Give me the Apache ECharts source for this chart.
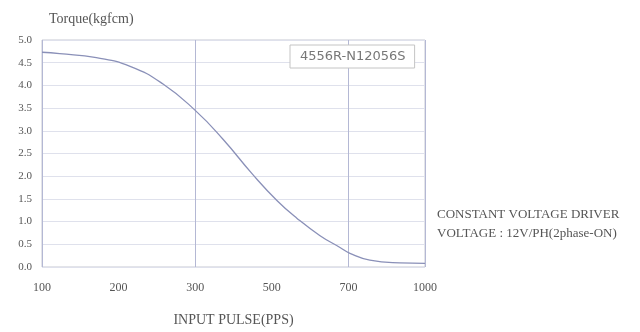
<!DOCTYPE html>
<html>
<head>
<meta charset="utf-8">
<script src="https://cdn.jsdelivr.net/npm/echarts@6/dist/echarts.min.js"></script>
<style>
  html, body { margin: 0; padding: 0; background: #fff; }
  #chart { width: 640px; height: 332px; }
</style>
</head>
<body>
<div id="chart"></div>
<script>
// tick labels on the x axis (evenly spaced, not to scale)
const pulseLabels = ['100', '200', '300', '500', '700', '1000'];
// curve: [position along the tick labels, torque]
const torqueCurve = [
  [0, 4.73], [0.23, 4.70], [0.71, 4.61], [1.15, 4.42], [1.58, 4.03],
  [2.0, 3.45], [2.36, 2.82], [2.75, 2.04], [3.07, 1.46],
  [3.33, 1.07], [3.63, 0.69], [3.89, 0.43], [4.02, 0.30], [4.28, 0.15],
  [4.67, 0.09], [5.0, 0.08]
];
const modelName = '4556R-N12056S';
const noteLines = ['CONSTANT VOLTAGE DRIVER', 'VOLTAGE : 12V/PH(2phase-ON)'];

const serif = '"Liberation Serif", "DejaVu Serif", serif';
const chart = echarts.init(document.getElementById('chart'));

chart.setOption({
  animation: false,
  title: {
    text: 'Torque(kgfcm)',
    left: 44,
    top: 7,
    textStyle: { fontFamily: serif, fontSize: 14, fontWeight: 'normal', color: '#555' }
  },
  legend: {
    data: [modelName],
    left: 290,
    top: 45,
    itemWidth: 0,
    itemHeight: 0,
    itemGap: 0,
    padding: [5, 9, 5, 4],
    borderColor: '#c4c4c4',
    borderWidth: 1,
    backgroundColor: '#fff',
    textStyle: { fontFamily: '"DejaVu Sans", sans-serif', fontSize: 13, color: '#777' }
  },
  grid: {
    left: 42,
    right: 215,
    top: 40,
    bottom: 59,
    show: true,
    borderColor: '#c6c8d2',
    borderWidth: 1
  },
  xAxis: [
    {
      type: 'value',
      min: 0,
      max: 5,
      interval: 1,
      axisLine: { show: false },
      axisTick: { show: false },
      splitLine: { show: false },
      axisLabel: {
        formatter: (v) => pulseLabels[v],
        margin: 15,
        fontFamily: serif,
        fontSize: 12,
        color: '#555'
      },
      name: 'INPUT PULSE(PPS)',
      nameLocation: 'middle',
      nameGap: 46,
      nameTextStyle: { fontFamily: serif, fontSize: 14, color: '#555' }
    },
    {
      type: 'value',
      min: 0,
      max: 5,
      interval: 2,
      axisLine: { show: false },
      axisTick: { show: false },
      axisLabel: { show: false },
      splitLine: { show: true, lineStyle: { color: '#b4b8d4', width: 1 } }
    }
  ],
  yAxis: {
    type: 'value',
    min: 0,
    max: 5,
    interval: 0.5,
    axisLine: { show: false },
    axisTick: { show: false },
    axisLabel: {
      formatter: (v) => v.toFixed(1),
      margin: 10,
      fontFamily: serif,
      fontSize: 11,
      color: '#555'
    },
    splitLine: { lineStyle: { color: '#dfe1ec', width: 1 } }
  },
  graphic: [
    {
      type: 'text',
      left: 437,
      top: 205,
      style: {
        text: noteLines.join('\n'),
        font: '13px ' + serif,
        lineHeight: 19,
        fill: '#555'
      }
    }
  ],
  series: [
    {
      name: modelName,
      type: 'line',
      xAxisIndex: 0,
      smooth: true,
      showSymbol: false,
      data: torqueCurve,
      lineStyle: { color: '#8a90b8', width: 1.3 }
    }
  ]
});
</script>
</body>
</html>
